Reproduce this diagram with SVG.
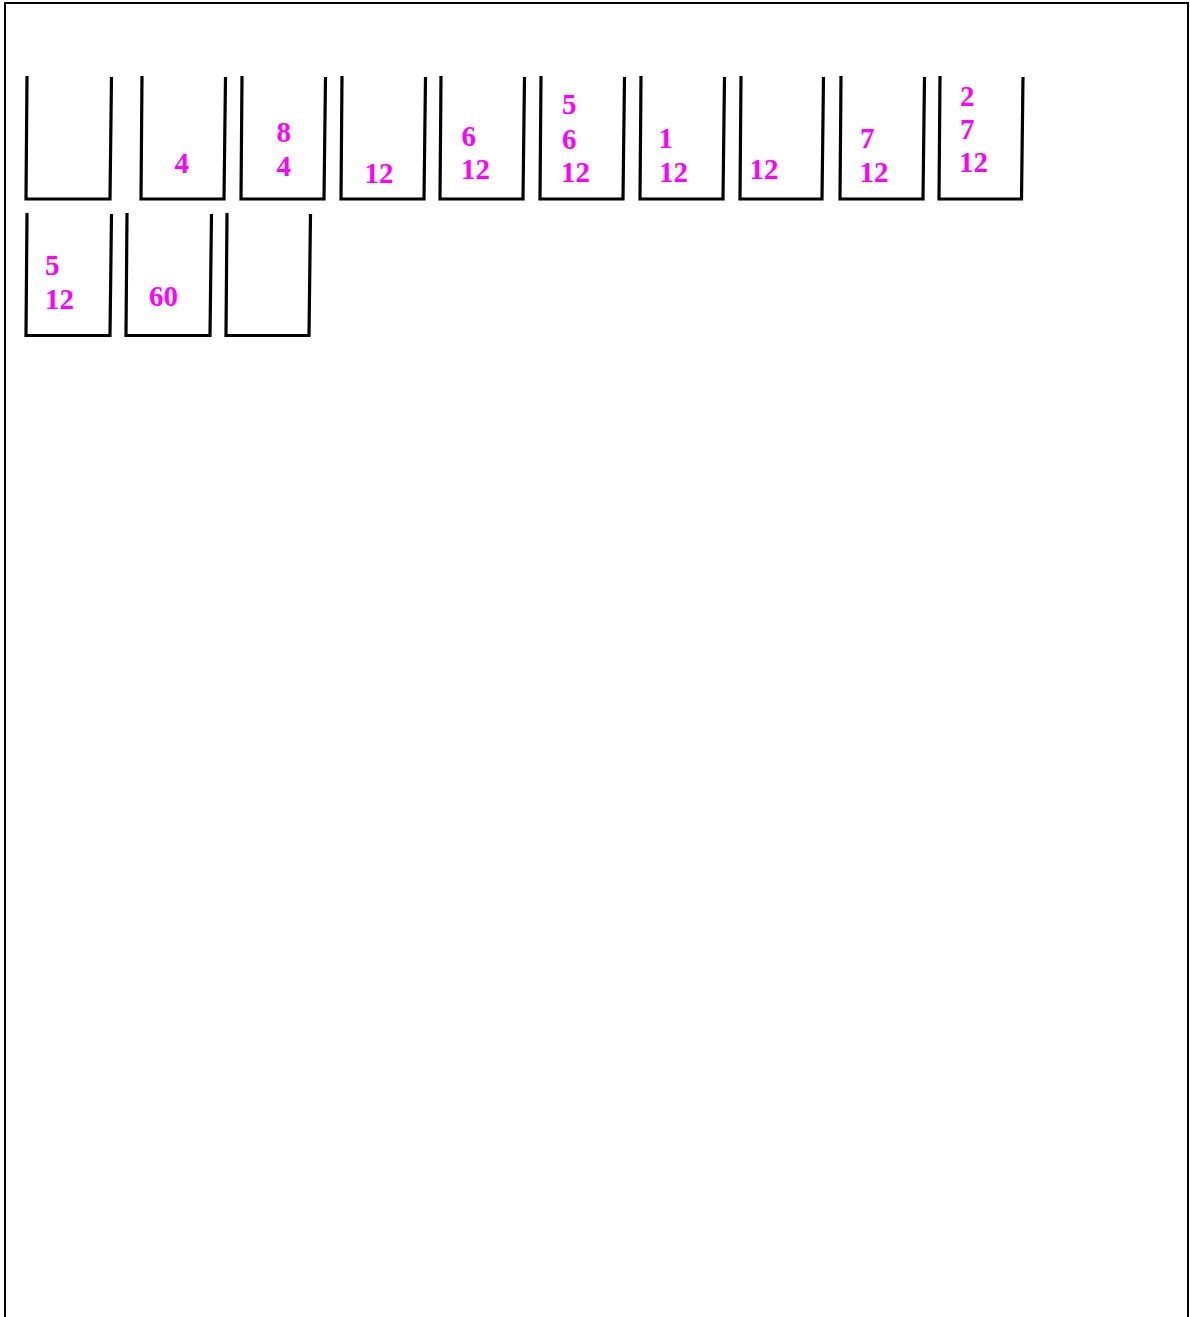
<svg xmlns="http://www.w3.org/2000/svg" width="1190" height="1317" viewBox="0 0 1190 1317">
<style>
.frame{fill:none;stroke:#000;stroke-width:2}
.box{fill:none;stroke:#000;stroke-width:3.2;stroke-linejoin:miter}
.lbl{font-family:"Liberation Serif","Times New Roman",serif;font-weight:bold;font-size:29px;fill:#ff00ff}
</style>
<rect width="1190" height="1317" fill="#fff"/>
<path class="frame" d="M5 1330 L5 3 L1188 3 L1188 1330"/>
<g id="b1"><path class="box" d="M27 76 L26 199 L110 199 L111.5 77"/></g>
<g id="b2"><path class="box" d="M142 76 L141 199 L224 199 L225.5 77"/><text class="lbl" x="174.5" y="172.5">4</text></g>
<g id="b3"><path class="box" d="M242 76 L241 199 L324 199 L325.5 77"/><text class="lbl" x="276.5" y="141.5">8</text><text class="lbl" x="276.5" y="175.5">4</text></g>
<g id="b4"><path class="box" d="M342 76 L341 199 L424 199 L425.5 77"/><text class="lbl" x="364.5" y="182.5">12</text></g>
<g id="b5"><path class="box" d="M441 76 L440 199 L523 199 L524.5 77"/><text class="lbl" x="461.5" y="146">6</text><text class="lbl" x="461" y="178.5">12</text></g>
<g id="b6"><path class="box" d="M541 76 L540 199 L623 199 L624.5 77"/><text class="lbl" x="562" y="114">5</text><text class="lbl" x="562" y="148.5">6</text><text class="lbl" x="561" y="182">12</text></g>
<g id="b7"><path class="box" d="M641 76 L640 199 L723 199 L724.5 77"/><text class="lbl" x="658.5" y="148">1</text><text class="lbl" x="659" y="181.5">12</text></g>
<g id="b8"><path class="box" d="M741 76 L740 199 L822 199 L823.5 77"/><text class="lbl" x="749.5" y="179">12</text></g>
<g id="b9"><path class="box" d="M841 76 L840 199 L923 199 L924.5 77"/><text class="lbl" x="860" y="148">7</text><text class="lbl" x="859.5" y="182">12</text></g>
<g id="b10"><path class="box" d="M940 76 L939 199 L1021.5 199 L1023 77"/><text class="lbl" x="960" y="105.5">2</text><text class="lbl" x="960" y="139">7</text><text class="lbl" x="959" y="171.5">12</text></g>
<g id="b11"><path class="box" d="M27 213 L26 335.5 L110 335.5 L111.5 214"/><text class="lbl" x="45" y="275">5</text><text class="lbl" x="45" y="309">12</text></g>
<g id="b12"><path class="box" d="M127 213 L126 335.5 L210 335.5 L211.5 214"/><text class="lbl" x="149" y="306">60</text></g>
<g id="b13"><path class="box" d="M227 213 L226 335.5 L309 335.5 L310.5 214"/></g>
</svg>
